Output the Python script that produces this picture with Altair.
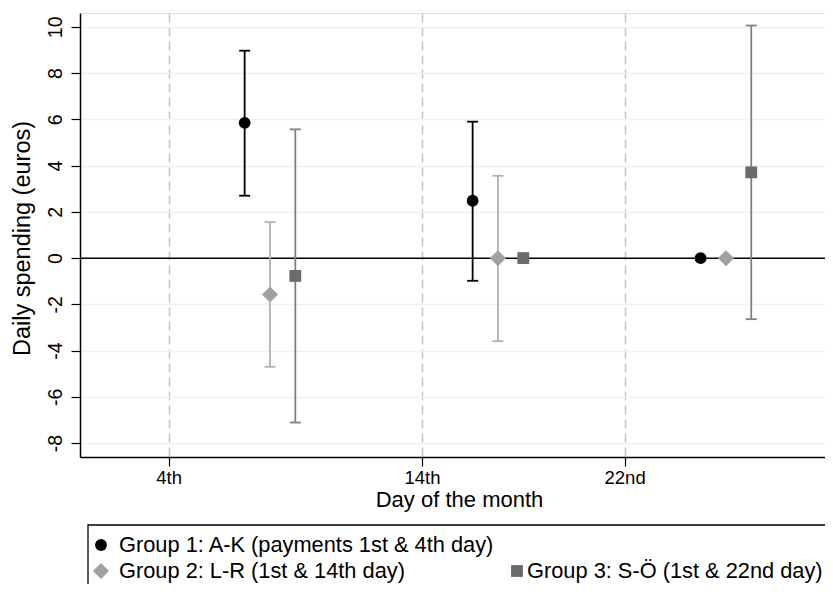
import altair as alt
import pandas as pd

# ---- data ----
groups = ["Group 1: A-K (payments 1st & 4th day)",
          "Group 2: L-R (1st & 14th day)",
          "Group 3: S-Ö (1st & 22nd day)"]
g1_days = [7, 16, 25]
g1_est = [5.85, 2.48, 0.0]
g1_lo = [2.70, -0.98, None]
g1_hi = [8.97, 5.90, None]

g2_days = [8, 17, 26]
g2_est = [-1.57, 0.0, 0.0]
g2_lo = [-4.70, -3.59, None]
g2_hi = [1.56, 3.56, None]

g3_days = [9, 18, 27]
g3_est = [-0.77, 0.0, 3.71]
g3_lo = [-7.11, None, -2.64]
g3_hi = [5.57, None, 10.06]

tick_days = [4, 14, 22]
tick_labels = ["4th", "14th", "22nd"]
y_ticks = [-8, -6, -4, -2, 0, 2, 4, 6, 8, 10]

rows = []
for g, d, e, lo, hi in [(groups[0], g1_days, g1_est, g1_lo, g1_hi),
                        (groups[1], g2_days, g2_est, g2_lo, g2_hi),
                        (groups[2], g3_days, g3_est, g3_lo, g3_hi)]:
    for i in range(len(d)):
        rows.append({"group": g, "day": d[i], "est": e[i], "lo": lo[i], "hi": hi[i]})
df = pd.DataFrame(rows)
ci = df.dropna()

marker_colors = ["#000000", "#a0a0a0", "#6b6b6b"]
ci_colors = ["#000000", "#b2b2b2", "#808080"]
shapes = ["circle", "diamond", "square"]
marker_sizes = [140, 256, 140]

W, H = 745, 444
FONT = "Liberation Sans"

label_expr = ("datum.value == %d ? '%s' : datum.value == %d ? '%s' : '%s'"
              % (tick_days[0], tick_labels[0], tick_days[1], tick_labels[1], tick_labels[2]))

xs = alt.Scale(domain=[0.5, 0.5 + W / 25.33], nice=False, zero=False)
ys = alt.Scale(domain=[-8.6, 10.6], nice=False, zero=False)

x_axis = alt.Axis(values=tick_days, labelExpr=label_expr, title="Day of the month",
                  grid=True, gridDash=[9, 5], gridColor="#c4c4c4", gridWidth=1.5,
                  tickSize=9, tickColor="black", tickWidth=1.2, domainColor="black",
                  domainWidth=1.5, labelFontSize=18.5, labelFont=FONT, labelColor="black",
                  labelPadding=2, titleFontSize=22, titleFont=FONT, titleFontWeight="normal",
                  titleColor="black", titleAlign="center", titleBaseline="middle",
                  titleX=379, titleY=42)
y_axis = alt.Axis(values=y_ticks, labelExpr="toString(datum.value)",
                  title="Daily spending (euros)", grid=True,
                  gridColor="#eaf2f3", gridWidth=1.5, tickSize=9, tickColor="black",
                  tickWidth=1.2, domainColor="black", domainWidth=1.5,
                  labelAngle=-90, labelAlign="center", labelBaseline="alphabetic",
                  labelPadding=10, labelFontSize=19.5, labelFont=FONT, labelColor="black",
                  titleFontSize=23.5, titleFont=FONT, titleFontWeight="normal",
                  titleColor="black", titleAngle=-90, titleAlign="center",
                  titleBaseline="middle", titleX=-58, titleY=H / 2 + 3)

base = alt.Chart(df)

axes = base.mark_point(opacity=0).encode(
    x=alt.X("day:Q", scale=xs, axis=x_axis),
    y=alt.Y("est:Q", scale=ys, axis=y_axis),
)

zero = alt.Chart(pd.DataFrame({"z": [0]})).mark_rule(color="black", strokeWidth=1.5).encode(
    y=alt.Y("z:Q", scale=ys)
)

stroke_scale = alt.Scale(domain=groups, range=ci_colors)
bars = alt.Chart(ci).mark_rule(strokeWidth=1.8).encode(
    x=alt.X("day:Q", scale=xs), y=alt.Y("lo:Q", scale=ys), y2="hi:Q",
    stroke=alt.Stroke("group:N", scale=stroke_scale, legend=None),
)
cap_lo = alt.Chart(ci).mark_rule(strokeWidth=1.8, xOffset=-5.5, x2Offset=5.5).encode(
    x=alt.X("day:Q", scale=xs), x2="day:Q", y=alt.Y("lo:Q", scale=ys),
    stroke=alt.Stroke("group:N", scale=stroke_scale, legend=None),
)
cap_hi = alt.Chart(ci).mark_rule(strokeWidth=1.8, xOffset=-5.5, x2Offset=5.5).encode(
    x=alt.X("day:Q", scale=xs), x2="day:Q", y=alt.Y("hi:Q", scale=ys),
    stroke=alt.Stroke("group:N", scale=stroke_scale, legend=None),
)

fill_scale = alt.Scale(domain=groups, range=marker_colors)
shape_scale = alt.Scale(domain=groups, range=shapes)

pt_layers = []
for i, g in enumerate(groups):
    pt_layers.append(
        alt.Chart(df).transform_filter(alt.datum.group == g).mark_point(
            filled=True, opacity=1, strokeWidth=0, size=marker_sizes[i]).encode(
            x=alt.X("day:Q", scale=xs), y=alt.Y("est:Q", scale=ys),
            fill=alt.Fill("group:N", scale=fill_scale, legend=None),
            shape=alt.Shape("group:N", scale=shape_scale, legend=None),
        )
    )

# ---- manual legend (Stata-like layout) ----
leg_df = pd.DataFrame({"group": groups})
box = alt.Chart(leg_df.head(1)).mark_rect(fill="white", stroke="black", strokeWidth=1.3, clip=False).encode(
    x=alt.value(8), x2=alt.value(W + 60), y=alt.value(512), y2=alt.value(H + 200)
)
leg_pos = [(21, 532, 39), (21, 558, 39), (437, 558, 447)]
leg_layers = []
for i, g in enumerate(groups):
    px, py, tx = leg_pos[i]
    one = pd.DataFrame({"group": [g]})
    leg_layers.append(
        alt.Chart(one).mark_point(filled=True, opacity=1, strokeWidth=0, clip=False,
                                  size=marker_sizes[i]).encode(
            x=alt.value(px), y=alt.value(py),
            fill=alt.Fill("group:N", scale=fill_scale, legend=None),
            shape=alt.Shape("group:N", scale=shape_scale, legend=None),
        )
    )
    leg_layers.append(
        alt.Chart(one).mark_text(align="left", baseline="middle", fontSize=21.8, font=FONT,
                                 color="black", clip=False).encode(
            x=alt.value(tx), y=alt.value(py), text="group:N"
        )
    )

chart = alt.layer(axes, zero, bars, cap_lo, cap_hi, *pt_layers, box, *leg_layers).properties(
    width=W, height=H,
    autosize=alt.AutoSizeParams(type="none"),
    padding={"left": 72, "top": 5, "right": 0, "bottom": 127},
).configure_view(stroke=None).configure(background="white")

chart.save("out.html", embed_options={"renderer": "svg", "actions": False})
